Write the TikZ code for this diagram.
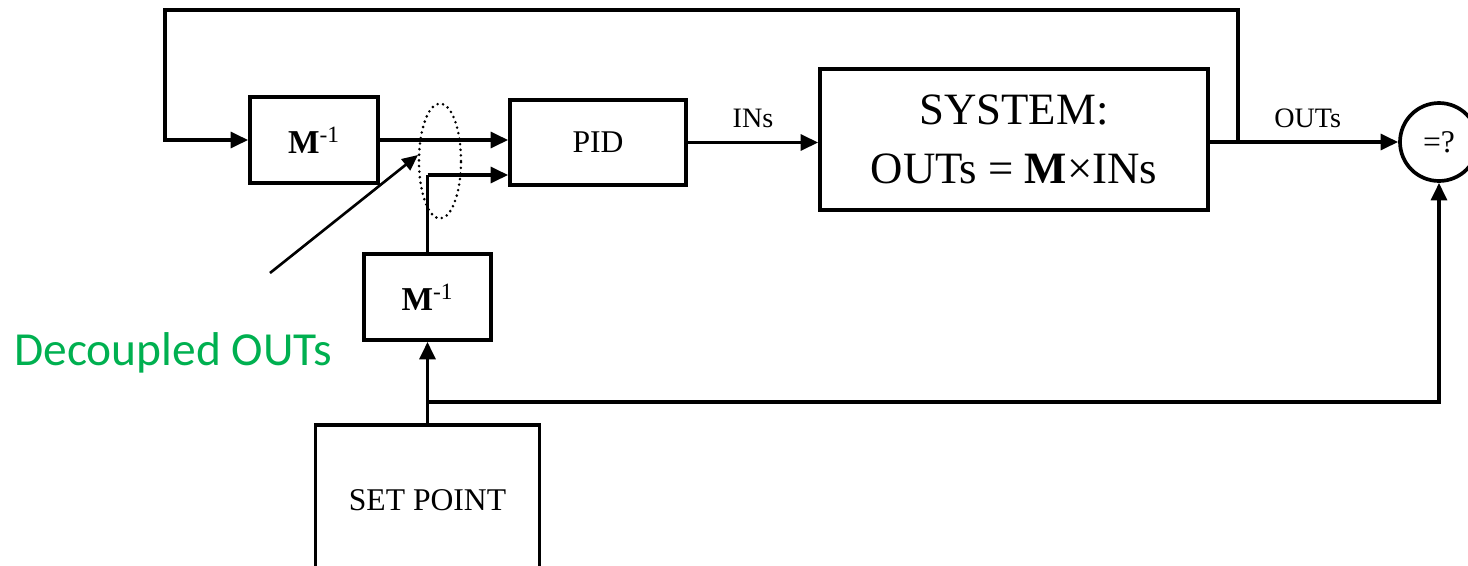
\documentclass[tikz,border=0pt]{standalone}
\usepackage{fontspec}
\setmainfont{Liberation Serif}
\newfontfamily\calib{Carlito}
\usetikzlibrary{arrows.meta,shapes.geometric}
\definecolor{dgreen}{RGB}{0,176,80}
\tikzset{
  blk/.style={draw, line width=2.1pt, inner sep=0pt, font=\fontsize{18}{20}\selectfont},
  arr/.style={line width=2.1pt, -{Triangle[length=10pt,width=9pt]}},
  wire/.style={line width=2.1pt},
  lbl/.style={font=\fontsize{16}{18}\selectfont},
}
\begin{document}
\begin{tikzpicture}[x=0.02cm,y=-0.02cm]
\useasboundingbox (0,0) rectangle (1468,565);
% blocks
\node[blk, minimum width=2.56cm, minimum height=1.72cm] (m1) at (314,140) {\fontsize{19}{21}\selectfont\textbf{M}\textsuperscript{-1}};
\node[blk, minimum width=3.52cm, minimum height=1.7cm] (pid) at (598,142.5) {PID};
\node[blk, minimum width=2.54cm, minimum height=1.72cm] (m2) at (427.5,297) {\fontsize{19}{21}\selectfont\textbf{M}\textsuperscript{-1}};
\node[blk, minimum width=7.76cm, minimum height=2.82cm, align=center, font=\fontsize{25.5}{34}\selectfont] (sys) at (1014,139.5) {SYSTEM:\\OUTs = \textbf{M}×INs};
\node[blk, minimum width=4.48cm, minimum height=3.0cm] (sp) at (427.5,500) {SET POINT};
\node[blk, circle, minimum size=1.56cm] (cmp) at (1439,142) {=?};
% dotted ellipse
\node[draw, ellipse, line width=1.6pt, dash pattern=on 0pt off 3.2pt, line cap=round, minimum width=0.84cm, minimum height=2.3cm, inner sep=0pt] (ell) at (440,161) {};
% coordinates
\coordinate (tap) at (1238,142);
\coordinate (topleft) at (165,10);
\coordinate (j2) at (427.5,175);
\coordinate (j3) at (427.5,402);
\coordinate (dstart) at (270,273);
\coordinate (dend) at (418,155);
% connectors
\draw[arr] (tap) |- (topleft) |- (m1.west);
\draw[arr] (m1.east) -- (pid.west |- m1.east);
\draw[wire] (m2.north) -- (j2);
\draw[arr] (j2) -- (pid.west |- j2);
\draw[arr] (pid.east) -- node[lbl, above=4pt] (ins) {INs} (sys.west |- pid.east);
\draw[arr] (sys.east |- cmp) -- node[lbl, above=4pt, pos=0.52] (outs) {OUTs} (cmp.west);
\draw[arr] (sp.north) -- (m2.south);
\draw[arr] (j3) -| (cmp.south);
\draw[line width=1.5pt, -{Triangle[length=9pt,width=8pt]}] (dstart) -- (dend);
% label
\node[anchor=base west, inner sep=0pt, text=dgreen, font=\calib\fontsize{27}{30}\selectfont] (dec) at (14,365) {Decoupled OUTs};
\end{tikzpicture}
\end{document}
